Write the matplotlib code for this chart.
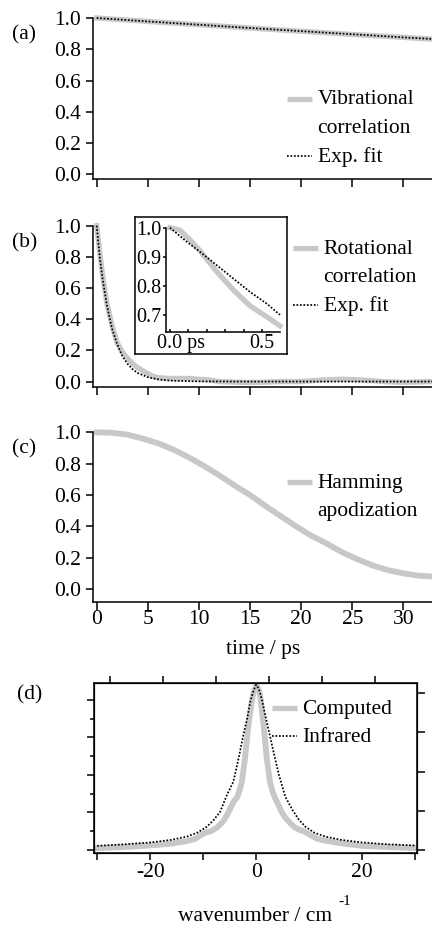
import numpy as np
import matplotlib
matplotlib.use("Agg")
import matplotlib.pyplot as plt
from matplotlib.lines import Line2D
from matplotlib.transforms import ScaledTranslation

plt.rcParams["font.family"] = ["Liberation Serif", "DejaVu Serif"]
plt.rcParams["axes.unicode_minus"] = False

# ── Data ─────────────────────────────────────────────────────────────────────
t_vib = [0, 5, 10, 15, 20, 25, 30, 32.8]
vib_corr = [1.0, 0.978, 0.957, 0.936, 0.915, 0.895, 0.876, 0.865]
vib_fit = [1.0, 0.978, 0.957, 0.936, 0.916, 0.896, 0.876, 0.866]

t_rot = [0, 0.3, 0.6, 1.0, 1.5, 2.0, 2.5, 3.0, 3.5, 4.0, 4.5, 5.0, 5.5, 6, 7, 8,
         9, 10, 11, 12, 14, 16, 18, 20, 22, 24, 26, 27, 28, 30, 32.8]
rot_corr = [1.0, 0.83, 0.67, 0.50, 0.36, 0.25, 0.19, 0.15, 0.115, 0.09, 0.07,
            0.05, 0.035, 0.025, 0.02, 0.02, 0.02, 0.015, 0.01, 0.0, -0.005,
            -0.005, 0.0, 0.0, 0.01, 0.015, 0.01, 0.005, 0.0, -0.005, 0.0]
t_rfit = [0, 0.3, 0.6, 1.0, 1.5, 2.0, 2.5, 3.0, 3.5, 4, 5, 6, 7, 8, 10, 15, 32.8]
rot_fit = [1.0, 0.80, 0.65, 0.49, 0.34, 0.24, 0.165, 0.115, 0.08, 0.055, 0.028,
           0.014, 0.007, 0.004, 0.001, 0.0, 0.0]

# inset (first 0.6 ps)
t_in = [0, 0.054, 0.109, 0.163, 0.254, 0.344, 0.435, 0.525, 0.598]
rot_in = [1.0, 0.992, 0.958, 0.921, 0.849, 0.786, 0.731, 0.694, 0.662]
t_in_fit = [0, 0.091, 0.163, 0.254, 0.344, 0.435, 0.525, 0.598]
fit_in = [1.0, 0.952, 0.917, 0.871, 0.825, 0.779, 0.739, 0.70]

t_ham = [0, 1.5, 3, 4.5, 6, 7.5, 9, 10.5, 12, 13.5, 15, 16.5, 18, 19.5, 21,
         22.5, 24, 25.5, 27, 28.5, 30, 31.5, 32.8]
hamming = [1.0, 0.997, 0.985, 0.96, 0.93, 0.89, 0.84, 0.785, 0.725, 0.66,
           0.60, 0.53, 0.465, 0.40, 0.34, 0.29, 0.235, 0.19, 0.15, 0.12,
           0.10, 0.085, 0.08]

wn_ir = [-30, -25, -20, -16, -13, -11, -9.3, -8, -6.8, -5.5, -4.3, -3.3, -2.4,
         -1.7, -1.1, -0.5, 0, 0.5, 1.1, 1.7, 2.4, 3.3, 4.3, 5.5, 6.8, 8, 9.3,
         11, 13, 16, 20, 25, 30]
infrared = [0.11, 0.15, 0.2, 0.27, 0.36, 0.47, 0.62, 0.8, 1.02, 1.47, 1.82,
            2.45, 3.07, 3.5, 3.95, 4.25, 4.4, 4.3, 4.0, 3.6, 3.17, 2.6, 2.0,
            1.42, 1.08, 0.82, 0.62, 0.46, 0.36, 0.27, 0.2, 0.15, 0.12]
wn_c = [-30, -25, -20, -16, -13, -11.5, -10.6, -9.5, -8.5, -7.4, -6.5, -5.8,
        -4.9, -4.2, -3.6, -3.1, -2.7, -2.1, -1.45, -0.9, -0.5, 0, 0.4, 0.75,
        1.4, 2.0, 2.6, 3.1, 3.6, 4.2, 4.8, 5.5, 6.4, 7.3, 8.3, 9.0, 10.2,
        11.5, 13, 16, 20, 25, 30]
computed = [0.05, 0.08, 0.12, 0.17, 0.24, 0.3, 0.38, 0.47, 0.5, 0.6, 0.72,
            0.85, 1.1, 1.3, 1.4, 1.6, 1.82, 2.45, 3.33, 3.9, 4.2, 4.38, 4.3,
            4.13, 3.33, 2.45, 1.82, 1.55, 1.38, 1.2, 1.02, 0.86, 0.72, 0.6,
            0.53, 0.5, 0.4, 0.3, 0.25, 0.18, 0.11, 0.08, 0.05]

# ── Style ────────────────────────────────────────────────────────────────────
W, H = 432, 930
GRAY = "#c8c8c8"
FS = 15.5
LW_AX = 1.1
LW_DOT = 1.25
DOT = (0, (1, 1))

fig = plt.figure(figsize=(W / 100, H / 100), dpi=100)


def rect(l, t, r, b):
    return [l / W, 1 - b / H, (r - l) / W, (b - t) / H]


def fx(x, y):
    return x / W, 1 - y / H


def legend_entry(x0, x1, y, style, text_lines):
    if style == "gray":
        ln = Line2D([x0 / W, x1 / W], [1 - y / H] * 2, color=GRAY, lw=3.8,
                    transform=fig.transFigure, solid_capstyle="butt")
    else:
        ln = Line2D([x0 / W, x1 / W], [1 - y / H] * 2, color="black",
                    lw=LW_DOT, ls=DOT, transform=fig.transFigure)
    fig.add_artist(ln)
    for i, s in enumerate(text_lines):
        fig.text(*fx(x1 + 5.5, y + 1 + i * 28.5), s, fontsize=FS,
                 va="center", ha="left")


def time_axis(ax, ylo):
    for s in ("top", "right"):
        ax.spines[s].set_visible(False)
    for s in ("left", "bottom"):
        ax.spines[s].set_linewidth(LW_AX)
    ax.set_xlim(-0.33, 32.8)
    ax.set_ylim(ylo, 1.0)
    ax.set_xticks(range(0, 31, 5))
    ax.set_yticks(np.arange(0, 1.01, 0.2))
    ax.yaxis.set_major_formatter(plt.FormatStrFormatter("%.1f"))
    ax.tick_params(axis="y", direction="out", length=5, width=LW_AX,
                   labelsize=FS, pad=4)
    ax.tick_params(axis="x", direction="out", length=6, width=LW_AX,
                   labelsize=FS, pad=0)
    ax.set_facecolor("none")


# ── (a) vibrational correlation ─────────────────────────────────────────────
ax_a = fig.add_axes(rect(93.3, 18, 432, 179))
time_axis(ax_a, -0.03)
ax_a.set_xticklabels([])
ax_a.plot(t_vib, vib_corr, color=GRAY, lw=3.8, clip_on=False)
ax_a.plot(t_vib, vib_fit, color="black", lw=LW_DOT, ls=DOT, clip_on=False)
fig.text(*fx(12, 35), "(a)", fontsize=FS, va="center")
legend_entry(287, 312, 99, "gray", ["Vibrational", "correlation"])
legend_entry(287, 312, 156, "dot", ["Exp. fit"])

# ── (b) rotational correlation ──────────────────────────────────────────────
ax_b = fig.add_axes(rect(93.3, 225.7, 432, 387))
time_axis(ax_b, -0.035)
ax_b.set_xticklabels([])
ax_b.plot(t_rot, rot_corr, color=GRAY, lw=3.8, clip_on=False)
ax_b.plot(t_rfit, rot_fit, color="black", lw=LW_DOT, ls=DOT, clip_on=False)
fig.text(*fx(12, 242.5), "(b)", fontsize=FS, va="center")
legend_entry(293, 318, 248.3, "gray", ["Rotational", "correlation"])
legend_entry(293, 318, 305, "dot", ["Exp. fit"])

# inset frame + inset axes
ax_frame = fig.add_axes(rect(135, 217.3, 287.3, 354))
ax_frame.set_xticks([])
ax_frame.set_yticks([])
for s in ax_frame.spines.values():
    s.set_linewidth(LW_AX)

ax_in = fig.add_axes(rect(165.7, 227.7, 280, 332.3))
ax_in.set_facecolor("none")
for s in ("top", "right"):
    ax_in.spines[s].set_visible(False)
for s in ("left", "bottom"):
    ax_in.spines[s].set_linewidth(LW_AX)
ax_in.set_xlim(-0.023, 0.598)
ax_in.set_ylim(0.64, 1.0)
ax_in.set_yticks([0.7, 0.8, 0.9, 1.0])
ax_in.yaxis.set_major_formatter(plt.FormatStrFormatter("%.1f"))
ax_in.set_xticks([0, 0.5])
ax_in.set_xticks(np.arange(0.1, 0.6, 0.1), minor=True)
ax_in.set_xticklabels(["0.0 ps", "0.5"])
ax_in.tick_params(axis="y", direction="out", length=2.5, width=LW_AX,
                  labelsize=14.5, pad=0.5)
ax_in.tick_params(axis="x", which="both", direction="in", length=2.5,
                  width=LW_AX, labelsize=14.5, pad=1)
lab0 = ax_in.get_xticklabels()[0]
lab0.set_ha("left")
lab0.set_transform(lab0.get_transform()
                   + ScaledTranslation(-12.5 / 100, 0, fig.dpi_scale_trans))
ax_in.plot(t_in, rot_in, color=GRAY, lw=3.8, clip_on=False)
ax_in.plot(t_in_fit, fit_in, color="black", lw=LW_DOT, ls=DOT, clip_on=False)

# ── (c) Hamming apodization ─────────────────────────────────────────────────
ax_c = fig.add_axes(rect(93.3, 432.3, 432, 601.7))
time_axis(ax_c, -0.081)
ax_c.plot(t_ham, hamming, color=GRAY, lw=4.2, clip_on=False)
ax_c.set_xlabel("time / ps", fontsize=FS)
ax_c.xaxis.set_label_coords(0.5, -(649 - 601.7) / 169.4)
ax_c.xaxis.label.set_va("center")
fig.text(*fx(12, 449), "(c)", fontsize=FS, va="center")
legend_entry(287, 312, 482.3, "gray", ["Hamming", "apodization"])

# ── (d) spectra ─────────────────────────────────────────────────────────────
ax_d = fig.add_axes(rect(94, 683, 416.7, 853))
for s in ax_d.spines.values():
    s.set_linewidth(LW_AX)
ax_d.set_xlim(-30.6, 30.3)
ax_d.set_ylim(-0.08, 4.45)
ax_d.set_xticks(range(-30, 31, 10))
ax_d.set_xticklabels(["", "-20", "", "0", "", "20", ""])
ax_d.set_yticks(range(0, 5))
ax_d.set_yticks(np.arange(0.5, 4.0, 1.0), minor=True)
ax_d.set_yticklabels([])
ax_d.tick_params(axis="x", direction="out", length=5, width=LW_AX,
                 labelsize=FS, pad=2)
ax_d.tick_params(axis="y", which="major", direction="out", length=5,
                 width=LW_AX)
ax_d.tick_params(axis="y", which="minor", direction="out", length=3,
                 width=LW_AX)
ax_d.plot(wn_c, computed, color=GRAY, lw=4.2)
ax_d.plot(wn_ir, infrared, color="black", lw=LW_DOT, ls=DOT)

ax_top = ax_d.twiny()
ax_top.set_xlim(ax_d.get_xlim())
ax_top.set_xticks(np.arange(-27.5, 25, 10))
ax_top.set_xticklabels([])
ax_top.tick_params(axis="x", direction="out", length=5, width=LW_AX)

ax_r = ax_d.twinx()
ax_r.set_ylim(-0.077, 4.26)
ax_r.set_yticks(range(0, 5))
ax_r.set_yticklabels([])
ax_r.tick_params(axis="y", direction="out", length=5.8, width=LW_AX)

ax_d.set_xlabel("wavenumber / cm", fontsize=FS)
ax_d.xaxis.set_label_coords(0.5, -(916.7 - 853) / 170)
ax_d.xaxis.label.set_va("center")
fig.text(*fx(338, 901.7), "-1", fontsize=11, va="center", ha="left")
fig.text(*fx(17, 695), "(d)", fontsize=FS, va="center")
legend_entry(271.7, 296.7, 708.3, "gray", ["Computed"])
legend_entry(271.7, 296.7, 736, "dot", ["Infrared"])

fig.savefig("out.png", dpi=100)
